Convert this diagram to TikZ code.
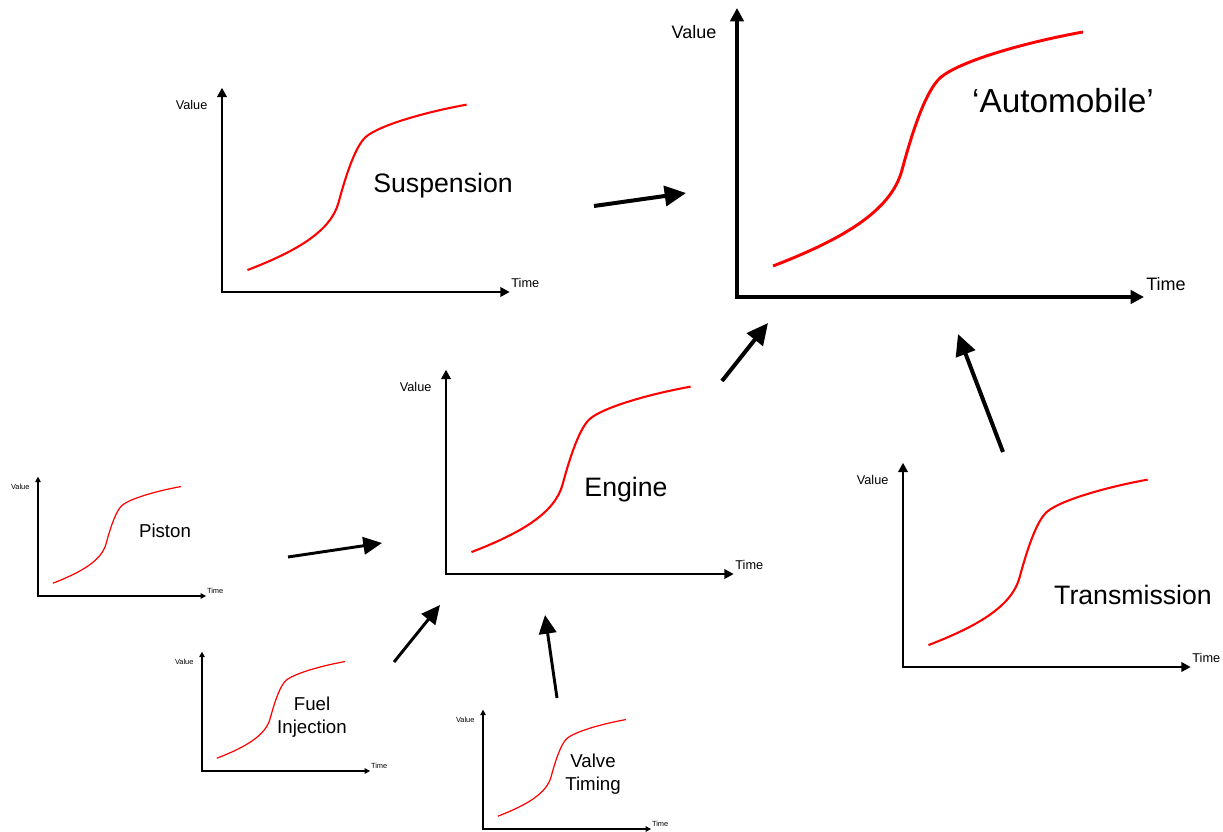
\documentclass[tikz,border=0pt]{standalone}
\usepackage{fontspec}
\setmainfont{Liberation Sans}
\usetikzlibrary{arrows.meta}
\tikzset{
  bigarrow/.style={line width=3pt,-{Triangle[length=16pt,width=15pt]}},
  smallarrow/.style={line width=2.2pt,-{Triangle[length=14pt,width=13pt]}},
  charttitle/.style={align=center,inner sep=0pt}
}

\begin{document}
\begin{tikzpicture}[x=0.75pt,y=-0.75pt]
\useasboundingbox (0,0) rectangle (1223,831);
% one S-curve chart per part: name/origin/scale
\foreach \n/\ox/\oy/\s in {auto/737/297/1,susp/222/292/.707,eng/446/574/.707,trans/903/667/.707,pist/38/596/.413,fuel/202/771/.413,valve/483/829/.413}{
\pgfmathsetmacro\fs{13.5*\s}\pgfmathsetmacro\al{10*\s}
\begin{scope}[shift={(\ox,\oy)},scale=\s]
\draw[line width=3pt*\s,{Triangle[length=\al pt,width=\al pt]}-{Triangle[length=\al pt,width=\al pt]}] (0,-289)--(0,0)--(407,0);
\draw[red,line width=2.2pt*\s] (36,-31) .. controls (106,-58) and (154,-86) .. (165,-127) .. controls (176,-168) and (189,-206) .. (203,-219) .. controls (222,-236) and (290,-255) .. (346,-265);
\node[font=\fontsize{\fs}{\fs}\selectfont] (\n-val) at (-43,-265) {Value};
\node[font=\fontsize{\fs}{\fs}\selectfont] (\n-time) at (429,-13) {Time};
\end{scope}}
\foreach \n/\x/\y/\ts/\t in {auto/1063/101/25/{‘Automobile’},susp/443/186/20/Suspension,eng/626/490/20/Engine,trans/1133/595/20/Transmission,pist/165/531/14/Piston,fuel/312/717/14/{Fuel\\Injection},valve/593/774/14/{Valve\\Timing}}{
\pgfmathsetmacro\ls{1.2*\ts}
\node[charttitle,font=\fontsize{\ts}{\ls}\selectfont] (\n-title) at (\x,\y) {\t};}
% where the arrows start and end
\coordinate (susp-out) at (594,206); \coordinate (auto-in1) at (686,193);
\coordinate (eng-out) at (722,381); \coordinate (auto-in2) at (768,323);
\coordinate (trans-out) at (1003,452); \coordinate (auto-in3) at (958,334);
\coordinate (pist-out) at (288,557); \coordinate (eng-in1) at (382,543);
\coordinate (fuel-out) at (394,662); \coordinate (eng-in2) at (440,605);
\coordinate (valve-out) at (557,698); \coordinate (eng-in3) at (545,615);
\draw[bigarrow] (susp-out)--(auto-in1);
\draw[bigarrow] (eng-out)--(auto-in2);
\draw[bigarrow] (trans-out)--(auto-in3);
\draw[smallarrow] (pist-out)--(eng-in1);
\draw[smallarrow] (fuel-out)--(eng-in2);
\draw[smallarrow] (valve-out)--(eng-in3);
\end{tikzpicture}
\end{document}
